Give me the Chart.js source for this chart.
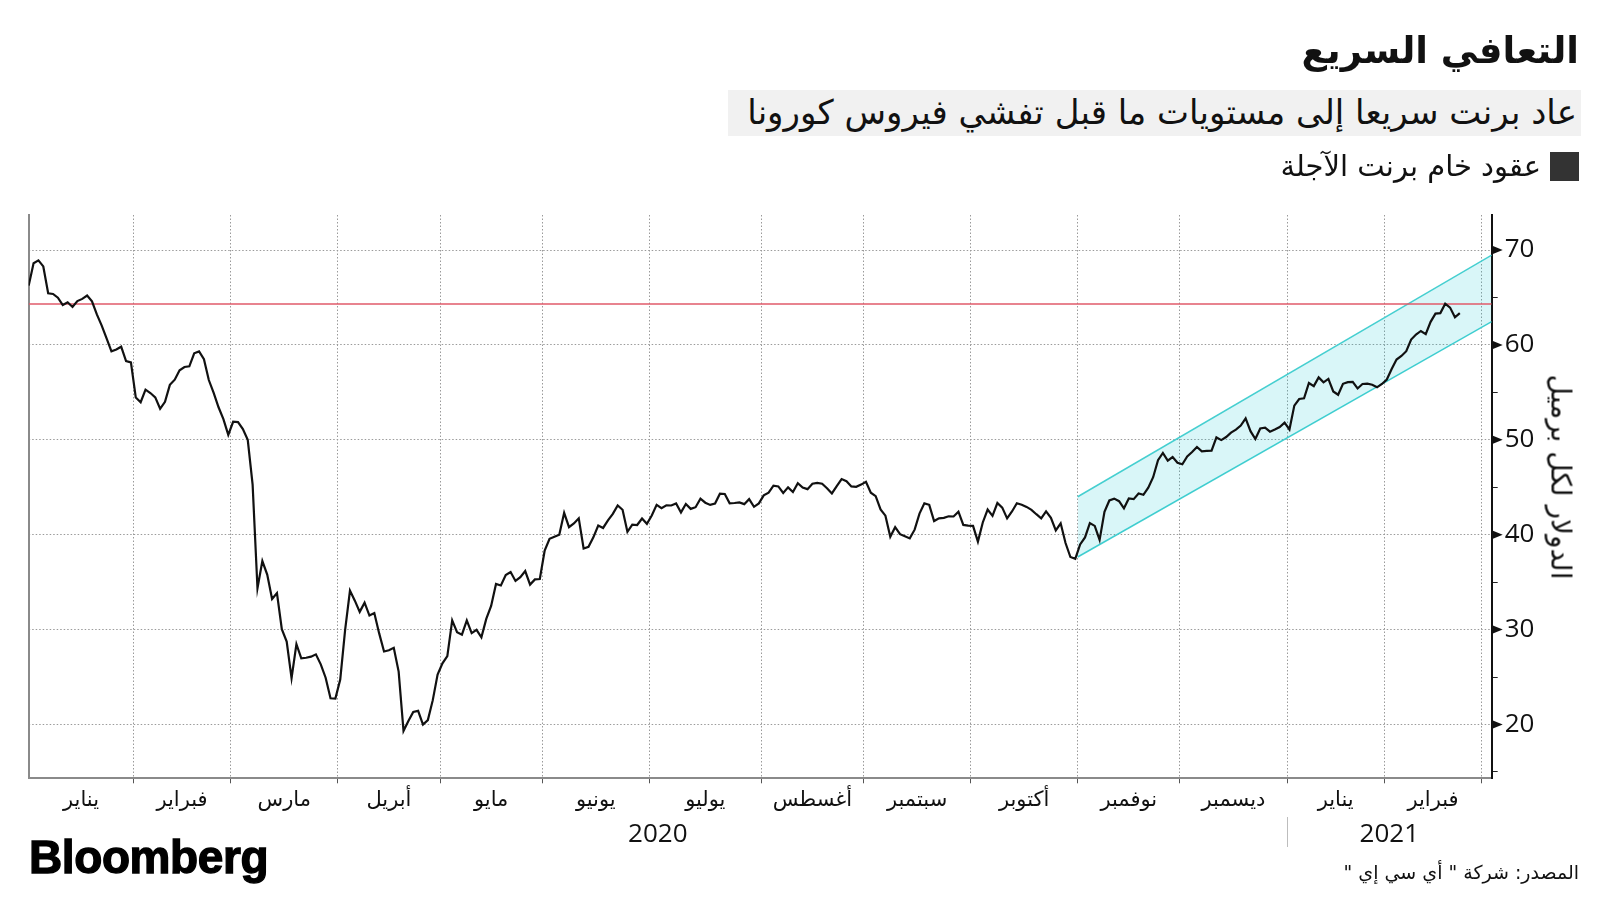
<!DOCTYPE html>
<html lang="ar">
<head>
<meta charset="utf-8">
<script src="https://cdn.jsdelivr.net/npm/chart.js@4/dist/chart.umd.min.js"></script>
<style>
  body { margin: 0; background: #fff; }
  #wrap { position: relative; width: 1600px; height: 900px; overflow: hidden; font-family: "DejaVu Sans", sans-serif; color: #111; }
  #chart { position: absolute; left: 0; top: 0; }
  .t { position: absolute; direction: rtl; white-space: nowrap; }
  #title { right: 21px; top: 28px; font-size: 37px; line-height: 46px; font-weight: bold; }
  #sub { position: absolute; left: 728px; top: 90px; width: 853px; height: 46px; background: #f1f1f1; }
  #sub span { position: absolute; right: 4px; top: 0; font-size: 34px; line-height: 44px; direction: rtl; white-space: nowrap; }
  #legbox { position: absolute; left: 1550px; top: 152px; width: 29px; height: 29px; background: #333; }
  #legend { right: 59px; top: 149px; font-size: 29px; line-height: 34px; }
  #ytitle { position: absolute; left: 1561px; top: 477px; transform: translate(-50%, -50%) rotate(90deg); font-size: 28px; white-space: nowrap; direction: rtl; }
  #logo { position: absolute; left: 29px; top: 831px; font-family: "Liberation Sans", Arial, sans-serif; font-weight: bold; font-size: 46px; letter-spacing: -0.4px; line-height: 52px; -webkit-text-stroke: 1.3px #000; color: #000; }
  #source { right: 21px; top: 859px; font-size: 19px; line-height: 26px; }
</style>
</head>
<body>
<div id="wrap">
  <canvas id="chart" width="1600" height="900"></canvas>
  <div class="t" id="title">التعافي السريع</div>
  <div id="sub"><span>عاد برنت سريعا إلى مستويات ما قبل تفشي فيروس كورونا</span></div>
  <div id="legbox"></div>
  <div class="t" id="legend">عقود خام برنت الآجلة</div>
  <div id="ytitle">الدولار لكل برميل</div>
  <div id="logo">Bloomberg</div>
  <div class="t" id="source">المصدر: شركة " أي سي إي "</div>
</div>
<script>
// Brent front-month settlement, one value per trading day, grouped by month
const jan20 = [66.25, 68.60, 68.91, 68.27, 65.44, 65.37, 64.98, 64.20, 64.49, 64.00, 64.62, 64.85, 65.20, 64.59, 63.21, 62.04, 60.69, 59.32, 59.51, 59.81, 58.29, 58.16];
const feb20 = [54.45, 53.96, 55.28, 54.93, 54.47, 53.27, 54.01, 55.79, 56.34, 57.32, 57.67, 57.75, 59.12, 59.31, 58.50, 56.30, 54.95, 53.43, 52.18, 50.52];
const mar20 = [51.90, 51.86, 51.13, 49.99, 45.27, 34.36, 37.22, 35.79, 33.22, 33.85, 30.05, 28.73, 24.88, 28.47, 26.98, 27.03, 27.15, 27.39, 26.34, 24.93, 22.76, 22.74];
const apr20 = [24.74, 29.94, 34.11, 33.05, 31.87, 32.84, 31.48, 31.74, 29.60, 27.69, 27.82, 28.08, 25.57, 19.33, 20.37, 21.33, 21.44, 19.99, 20.46, 22.54, 25.27];
const may20 = [26.44, 27.20, 30.97, 29.72, 29.46, 30.97, 29.63, 29.98, 29.19, 31.13, 32.50, 34.81, 34.65, 35.75, 36.06, 35.13, 35.53, 36.17, 34.74, 35.29, 35.33];
const jun20 = [38.32, 39.57, 39.79, 39.99, 42.30, 40.80, 41.18, 41.73, 38.55, 38.73, 39.72, 40.96, 40.71, 41.51, 42.19, 43.08, 42.63, 40.31, 41.05, 41.02, 41.71, 41.15];
const jul20 = [42.03, 43.14, 42.80, 43.10, 43.08, 43.29, 42.35, 43.24, 42.72, 42.90, 43.79, 43.37, 43.14, 43.28, 44.32, 44.29, 43.31, 43.34, 43.41, 43.22, 43.75, 42.94, 43.30];
const aug20 = [44.15, 44.43, 45.17, 45.09, 44.40, 44.99, 44.50, 45.43, 44.96, 44.80, 45.37, 45.46, 45.37, 44.90, 44.35, 45.13, 45.86, 45.64, 45.09, 45.05, 45.28];
const sep20 = [45.58, 44.43, 44.07, 42.66, 42.01, 39.78, 40.79, 40.06, 39.83, 39.61, 40.53, 42.22, 43.30, 43.15, 41.44, 41.72, 41.77, 41.94, 41.92, 42.43, 41.03, 40.95];
const oct20 = [40.93, 39.27, 41.29, 42.65, 41.99, 43.34, 42.85, 41.72, 42.45, 43.32, 43.16, 42.93, 42.62, 42.16, 41.73, 42.46, 41.77, 40.46, 41.20, 39.12, 37.65, 37.46];
const nov20 = [38.97, 39.71, 41.23, 40.93, 39.45, 42.40, 43.61, 43.80, 43.53, 42.78, 43.82, 43.75, 44.34, 44.20, 44.96, 46.06, 47.86, 48.61, 47.80, 48.18, 47.59];
const dec20 = [47.42, 48.25, 48.71, 49.25, 48.79, 48.84, 48.86, 50.25, 49.97, 50.29, 50.76, 51.08, 51.50, 52.26, 50.91, 50.08, 51.20, 51.29, 50.86, 51.09, 51.34, 51.80];
const jan21 = [51.09, 53.60, 54.30, 54.38, 55.99, 55.66, 56.58, 56.06, 56.42, 55.10, 54.75, 55.90, 56.08, 56.10, 55.41, 55.88, 55.91, 55.81, 55.53, 55.88];
const feb21 = [56.35, 57.46, 58.46, 58.84, 59.34, 60.56, 61.09, 61.47, 61.14, 62.43, 63.30, 63.35, 64.34, 63.93, 62.91, 63.35];

const monthLabels = ["يناير", "فبراير", "مارس", "أبريل", "مايو", "يونيو", "يوليو", "أغسطس", "سبتمبر", "أكتوبر", "نوفمبر", "ديسمبر", "يناير", "فبراير"];
const monthTradingDays = [22, 20, 22, 21, 21, 22, 23, 21, 22, 22, 21, 22, 20, 20];
const yearLabels = ["2020", "2021"];
const yTickValues = [15, 20, 25, 30, 35, 40, 45, 50, 55, 60, 65, 70];

const preCovidLevel = 64.3;              // red reference line
const channelUpper = [44.0, 69.47];      // channel start / end values
const channelLower = [37.65, 62.45];

const xMax = 300.55;
const brent = [].concat(jan20, feb20, mar20, apr20, may20, jun20, jul20, aug20, sep20, oct20, nov20, dec20, jan21, feb21);

// month boundaries (in trading-day index) and label positions
const bounds = [];
const monthMids = [];
let start = 0;
monthTradingDays.forEach((n) => {
  const lo = Math.max(start - 0.5, 0);
  const hi = start + n - 0.5;
  bounds.push(hi);
  monthMids.push((lo + hi) / 2);
  start += n;
});
const yearBreak = bounds[11];
const yearMids = [yearBreak / 2, (yearBreak + xMax) / 2];
const channelStart = bounds[9];

const decor = {
  id: "decor",
  afterDraw(chart) {
    const { ctx, scales: { x, y } } = chart;
    ctx.save();
    ctx.fillStyle = "#111";
    yTickValues.filter((v) => v % 10 === 0).forEach((v) => {
      const py = y.getPixelForValue(v);
      ctx.beginPath();
      ctx.moveTo(x.right, py - 4.5);
      ctx.lineTo(x.right + 11, py);
      ctx.lineTo(x.right, py + 4.5);
      ctx.closePath();
      ctx.fill();
    });
    const sx = Math.round(x.getPixelForValue(yearBreak)) + 0.5;
    ctx.strokeStyle = "#bdbdbd";
    ctx.lineWidth = 1;
    ctx.beginPath();
    ctx.moveTo(sx, 817);
    ctx.lineTo(sx, 847);
    ctx.stroke();
    ctx.restore();
  }
};

Chart.defaults.font.family = "'DejaVu Sans', sans-serif";
Chart.defaults.color = "#111";

const line = (data, color, width, extra) => Object.assign({
  data, borderColor: color, borderWidth: width, pointRadius: 0, tension: 0,
  fill: false, xAxisID: "x", yAxisID: "y"
}, extra || {});

new Chart(document.getElementById("chart"), {
  type: "line",
  data: {
    datasets: [
      line(brent.map((v, i) => ({ x: i, y: v })), "#111", 2.2, { label: "عقود خام برنت الآجلة" }),
      line([{ x: 0, y: preCovidLevel }, { x: xMax, y: preCovidLevel }], "#e05a6a", 1.5),
      line([{ x: channelStart, y: channelUpper[0] }, { x: xMax, y: channelUpper[1] }], "#45cfd0", 1.5,
        { backgroundColor: "rgba(0, 195, 205, 0.15)", fill: "+1" }),
      line([{ x: channelStart, y: channelLower[0] }, { x: xMax, y: channelLower[1] }], "#45cfd0", 1.5)
    ]
  },
  options: {
    responsive: false,
    animation: false,
    layout: { padding: { left: 28.7, top: 215, right: 0, bottom: 45.7 } },
    plugins: { legend: { display: false }, tooltip: { enabled: false } },
    scales: {
      x: {
        type: "linear",
        min: 0,
        max: xMax,
        weight: 0,
        afterBuildTicks: (s) => { s.ticks = bounds.map((v) => ({ value: v })); },
        afterFit: (s) => { s.height = 6; },
        grid: { color: "#9a9a9a", lineWidth: 1, tickLength: 5, tickColor: "#555", tickBorderDash: [] },
        border: { color: "#8a8a8a", width: 2, dash: [1.5, 2] },
        ticks: { display: false }
      },
      y: {
        type: "linear",
        position: "right",
        min: 14.33,
        max: 73.69,
        afterBuildTicks: (s) => { s.ticks = yTickValues.map((v) => ({ value: v })); },
        afterFit: (s) => { s.width = 108.3; },
        grid: {
          color: (c) => (c.tick && c.tick.value % 10 === 0 ? "#9a9a9a" : "rgba(0,0,0,0)"),
          tickColor: (c) => (c.tick && c.tick.value % 10 === 0 ? "rgba(0,0,0,0)" : "#222"),
          tickLength: 6,
          tickBorderDash: []
        },
        border: { color: "#111", width: 2, dash: [1.5, 2] },
        ticks: {
          padding: 7,
          font: { family: "'Open Sans', sans-serif", size: 26 },
          color: "#111",
          callback: (v) => (v % 10 === 0 ? String(v) : "")
        }
      },
      xm: {
        type: "linear",
        position: "bottom",
        min: 0,
        max: xMax,
        weight: 1,
        afterBuildTicks: (s) => { s.ticks = monthMids.map((v) => ({ value: v })); },
        afterFit: (s) => { s.height = 34; },
        grid: { display: false },
        border: { display: false },
        ticks: {
          autoSkip: false, maxRotation: 0, minRotation: 0, padding: -4,
          font: { size: 21 }, color: "#111",
          callback: (v, i) => monthLabels[i]
        }
      },
      xy: {
        type: "linear",
        position: "bottom",
        min: 0,
        max: xMax,
        weight: 2,
        afterBuildTicks: (s) => { s.ticks = yearMids.map((v) => ({ value: v })); },
        afterFit: (s) => { s.height = 36; },
        grid: { display: false },
        border: { display: false },
        ticks: {
          autoSkip: false, maxRotation: 0, minRotation: 0, padding: -7,
          font: { family: "'Open Sans', sans-serif", size: 26 }, color: "#111",
          callback: (v, i) => yearLabels[i]
        }
      },
      yl: {
        position: "left",
        min: 0,
        max: 1,
        afterFit: (s) => { s.width = 0; },
        grid: { display: false },
        ticks: { display: false },
        border: { color: "#8a8a8a", width: 2 }
      }
    }
  },
  plugins: [decor]
});
</script>
</body>
</html>
